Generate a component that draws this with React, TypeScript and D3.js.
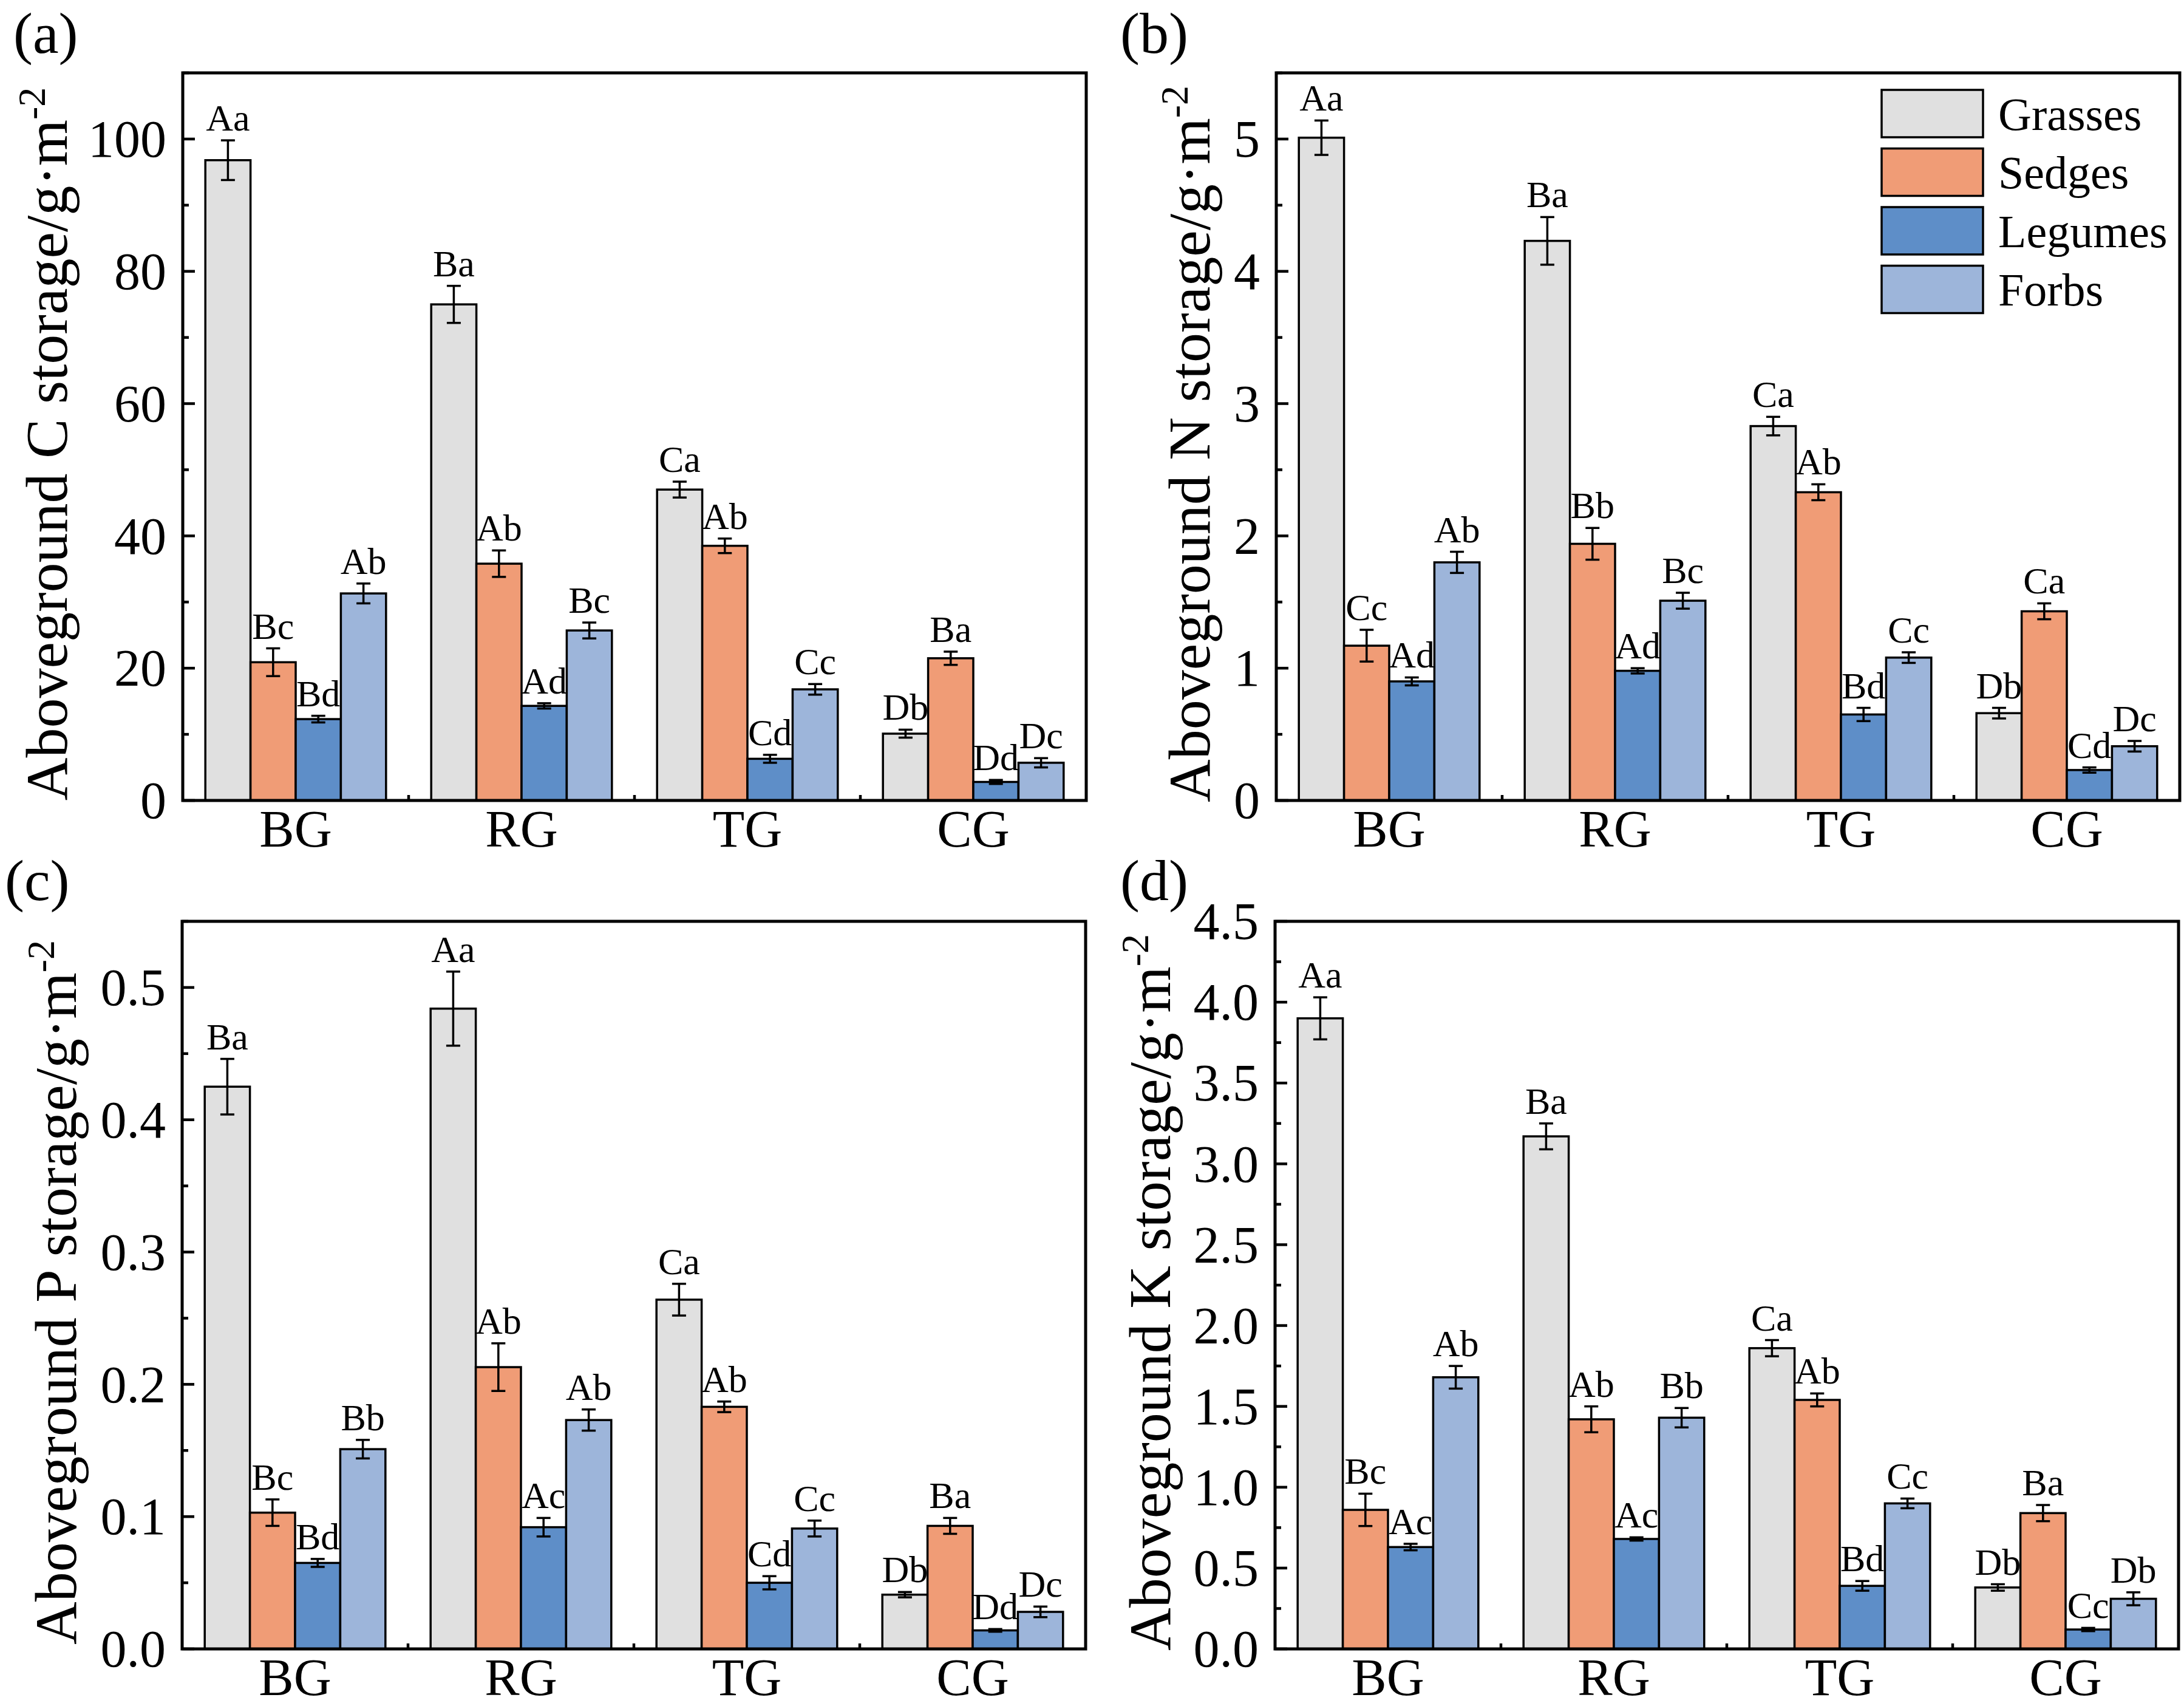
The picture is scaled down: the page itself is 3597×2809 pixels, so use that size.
import * as d3 from 'd3';
import React from 'react';

// grassland types (x categories) and plant functional groups (series)
const groups = ['BG', 'RG', 'TG', 'CG'];
const species = ['Grasses', 'Sedges', 'Legumes', 'Forbs'];
const fills = ['#e0e0e0', '#f09c76', '#5e8ec8', '#9db5da'];

// rows = BG, RG, TG, CG ; cols = Grasses, Sedges, Legumes, Forbs
const cMean = [[96.8, 20.9, 12.3, 31.3], [75.0, 35.8, 14.3, 25.7], [47.0, 38.5, 6.3, 16.8], [10.1, 21.5, 2.8, 5.7]];
const cErr = [[3.0, 2.1, 0.5, 1.5], [2.8, 2.0, 0.4, 1.2], [1.2, 1.1, 0.6, 0.8], [0.6, 1.0, 0.3, 0.7]];
const cLetters = [['Aa', 'Bc', 'Bd', 'Ab'], ['Ba', 'Ab', 'Ad', 'Bc'], ['Ca', 'Ab', 'Cd', 'Cc'], ['Db', 'Ba', 'Dd', 'Dc']];

const nMean = [[5.01, 1.17, 0.9, 1.8], [4.23, 1.94, 0.98, 1.51], [2.83, 2.33, 0.65, 1.08], [0.66, 1.43, 0.23, 0.41]];
const nErr = [[0.13, 0.12, 0.03, 0.08], [0.18, 0.12, 0.02, 0.06], [0.07, 0.06, 0.05, 0.04], [0.04, 0.06, 0.02, 0.04]];
const nLetters = [['Aa', 'Cc', 'Ad', 'Ab'], ['Ba', 'Bb', 'Ad', 'Bc'], ['Ca', 'Ab', 'Bd', 'Cc'], ['Db', 'Ca', 'Cd', 'Dc']];

const pMean = [[0.425, 0.103, 0.065, 0.151], [0.484, 0.213, 0.092, 0.173], [0.264, 0.183, 0.05, 0.091], [0.041, 0.093, 0.014, 0.028]];
const pErr = [[0.021, 0.01, 0.003, 0.007], [0.028, 0.018, 0.007, 0.008], [0.012, 0.004, 0.005, 0.006], [0.002, 0.006, 0.001, 0.004]];
const pLetters = [['Ba', 'Bc', 'Bd', 'Bb'], ['Aa', 'Ab', 'Ac', 'Ab'], ['Ca', 'Ab', 'Cd', 'Cc'], ['Db', 'Ba', 'Dd', 'Dc']];

const kMean = [[3.9, 0.86, 0.63, 1.68], [3.17, 1.42, 0.68, 1.43], [1.86, 1.54, 0.39, 0.9], [0.38, 0.84, 0.12, 0.31]];
const kErr = [[0.13, 0.1, 0.02, 0.07], [0.08, 0.08, 0.01, 0.06], [0.05, 0.04, 0.03, 0.03], [0.02, 0.05, 0.01, 0.04]];
const kLetters = [['Aa', 'Bc', 'Ac', 'Ab'], ['Ba', 'Ab', 'Ac', 'Bb'], ['Ca', 'Ab', 'Bd', 'Cc'], ['Db', 'Ba', 'Cc', 'Db']];

const W = 3597;
const H = 2809;
const FONT = '"Liberation Serif", "Times New Roman", Times, serif';
const plotW = 1488;
const plotH = 1198;

const panels = [
    { tag: '(a)', el: 'C', mean: cMean, err: cErr, letters: cLetters, yMax: 110, step: 20, fmt: d3.format('d'), x0: 301, y0: 120, titleX: 110, tagX: 22, tagY: 87, legend: false },
    { tag: '(b)', el: 'N', mean: nMean, err: nErr, letters: nLetters, yMax: 5.5, step: 1, fmt: d3.format('d'), x0: 2102, y0: 120, titleX: 1992, tagX: 1845, tagY: 87, legend: true },
    { tag: '(c)', el: 'P', mean: pMean, err: pErr, letters: pLetters, yMax: 0.55, step: 0.1, fmt: d3.format('.1f'), x0: 300, y0: 1517, titleX: 125, tagX: 8, tagY: 1482, legend: false },
    { tag: '(d)', el: 'K', mean: kMean, err: kErr, letters: kLetters, yMax: 4.5, step: 0.5, fmt: d3.format('.1f'), x0: 2100, y0: 1517, titleX: 1927, tagX: 1845, tagY: 1482, legend: false },
];

function Panel({ p }: { p: any }) {
    const x = d3.scaleLinear().domain([0.5, 4.5]).range([p.x0, p.x0 + plotW]);
    const y = d3.scaleLinear().domain([0, p.yMax]).range([p.y0 + plotH, p.y0]);
    const bw = x(0.2) - x(0);
    const majors = d3.range(0, p.yMax + 1e-9, p.step);
    const minors = d3.range(p.step / 2, p.yMax + 1e-9, p.step);
    const bottom = y(0);

    return (
        <g>
            {/* bars */}
            {groups.map((gname, gi) =>
                species.map((s, si) => {
                    const left = x(gi + 1 + (si - 2) * 0.2);
                    const v = p.mean[gi][si];
                    return (
                        <rect key={gname + s} x={left} y={y(v)} width={bw} height={bottom - y(v)}
                            fill={fills[si]} stroke="#000" strokeWidth={3.5} />
                    );
                })
            )}
            {/* error bars + letters */}
            {groups.map((gname, gi) =>
                species.map((s, si) => {
                    const cx = x(gi + 1 + (si - 1.5) * 0.2);
                    const v = p.mean[gi][si];
                    const e = p.err[gi][si];
                    const hi = y(v + e);
                    const lo = y(v - e);
                    return (
                        <g key={'e' + gname + s}>
                            <line x1={cx} x2={cx} y1={hi} y2={lo} stroke="#000" strokeWidth={3.5} />
                            <line x1={cx - 11.5} x2={cx + 11.5} y1={hi} y2={hi} stroke="#000" strokeWidth={3.5} />
                            <line x1={cx - 11.5} x2={cx + 11.5} y1={lo} y2={lo} stroke="#000" strokeWidth={3.5} />
                            <text x={cx} y={hi - 16} textAnchor="middle" fontSize={62}>{p.letters[gi][si]}</text>
                        </g>
                    );
                })
            )}
            {/* frame */}
            <rect x={p.x0} y={p.y0} width={plotW} height={plotH} fill="none" stroke="#000" strokeWidth={5} />
            {/* y ticks (inward) */}
            {majors.map((t: number) => (
                <g key={'M' + t}>
                    <line x1={p.x0} x2={p.x0 + 20} y1={y(t)} y2={y(t)} stroke="#000" strokeWidth={4.5} />
                    <text x={p.x0 - 27} y={y(t)} dy="0.34em" textAnchor="end" fontSize={86}>{p.fmt(t)}</text>
                </g>
            ))}
            {minors.map((t: number) => (
                <line key={'m' + t} x1={p.x0} x2={p.x0 + 10} y1={y(t)} y2={y(t)} stroke="#000" strokeWidth={4.5} />
            ))}
            {/* x minor ticks between groups */}
            {[1.5, 2.5, 3.5].map((t) => (
                <line key={'xm' + t} x1={x(t)} x2={x(t)} y1={bottom} y2={bottom - 9} stroke="#000" strokeWidth={4.5} />
            ))}
            {groups.map((gname, gi) => (
                <text key={'xl' + gname} x={x(gi + 1)} y={bottom + 76} textAnchor="middle" fontSize={86}>{gname}</text>
            ))}
            {/* axis title */}
            <text transform={`translate(${p.titleX},${p.y0 + plotH / 2 + 12}) rotate(-90)`} textAnchor="middle" fontSize={98}>
                {`Aboveground ${p.el} storage/g\u00b7m`}
                <tspan dy={-36} fontSize={64}>-2</tspan>
            </text>
            <text x={p.tagX} y={p.tagY} fontSize={96}>{p.tag}</text>
            {p.legend && species.map((s, si) => (
                <g key={'lg' + s}>
                    <rect x={3099} y={148 + si * 96.5} width={167} height={78} fill={fills[si]} stroke="#000" strokeWidth={3.5} />
                    <text x={3291} y={148 + si * 96.5 + 39} dy="0.35em" fontSize={76}>{s}</text>
                </g>
            ))}
        </g>
    );
}

export default function App() {
    return (
        <svg width={W} height={H} viewBox={`0 0 ${W} ${H}`}
            style={{ position: 'absolute', left: 0, top: 0, background: '#fff' }}
            fontFamily={FONT}>
            <rect x={0} y={0} width={W} height={H} fill="#fff" />
            {panels.map((p) => <Panel key={p.tag} p={p} />)}
        </svg>
    );
}
